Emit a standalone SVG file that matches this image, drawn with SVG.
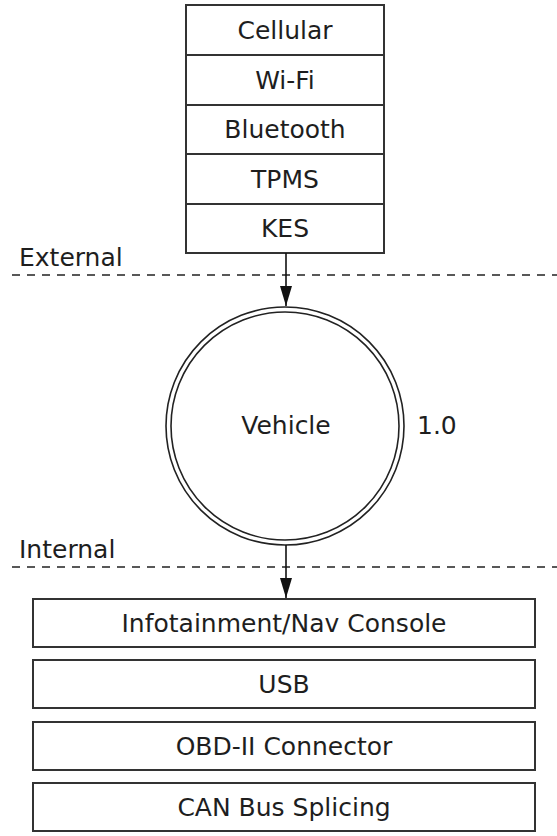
<svg xmlns="http://www.w3.org/2000/svg" width="557" height="836" viewBox="0 0 557 836">
<style>
.bx{fill:#fff;stroke:#333;stroke-width:2}
.t{font-family:"DejaVu Sans","Liberation Sans",sans-serif;font-size:25px;fill:#1e1e1e;text-anchor:middle}
.lbl{font-family:"DejaVu Sans","Liberation Sans",sans-serif;font-size:25px;fill:#1e1e1e}
.dash{stroke:#222;stroke-width:1.5;stroke-dasharray:8 7;fill:none}
.ring{fill:none;stroke:#222;stroke-width:1.6}
.conn{stroke:#111;stroke-width:1.6;fill:none}
</style>
<defs>
<marker id="ah" viewBox="0 0 20 12" refX="20" refY="6" markerWidth="20" markerHeight="12" markerUnits="userSpaceOnUse" orient="auto">
<path d="M0,0 L20,6 L0,12 Z" fill="#111"/>
</marker>
</defs>
<rect width="557" height="836" fill="#fff"/>
<g id="boundaries">
<line class="dash" x1="12" y1="275" x2="557" y2="275"/>
<text class="lbl" x="19" y="266">External</text>
<line class="dash" x1="12" y1="567" x2="557" y2="567"/>
<text class="lbl" x="19" y="558">Internal</text>
</g>
<g id="external-interfaces">
<g id="cellular"><rect class="bx" x="186" y="5" width="198" height="50"/><text class="t" x="285" y="39">Cellular</text></g>
<g id="wifi"><rect class="bx" x="186" y="55" width="198" height="50"/><text class="t" x="285" y="89">Wi-Fi</text></g>
<g id="bluetooth"><rect class="bx" x="186" y="105" width="198" height="49"/><text class="t" x="285" y="138">Bluetooth</text></g>
<g id="tpms"><rect class="bx" x="186" y="154" width="198" height="50"/><text class="t" x="285" y="188">TPMS</text></g>
<g id="kes"><rect class="bx" x="186" y="204" width="198" height="49"/><text class="t" x="285" y="237">KES</text></g>
</g>
<g id="vehicle">
<circle class="ring" cx="285" cy="426" r="119"/>
<circle class="ring" cx="285" cy="426" r="114"/>
<text class="t" x="286" y="434">Vehicle</text>
<text class="lbl" x="417" y="434">1.0</text>
</g>
<g id="internal-interfaces">
<g id="infotainment"><rect class="bx" x="33" y="599" width="502" height="48"/><text class="t" x="284" y="632">Infotainment/Nav Console</text></g>
<g id="usb"><rect class="bx" x="33" y="660" width="502" height="48"/><text class="t" x="284" y="693">USB</text></g>
<g id="obd"><rect class="bx" x="33" y="722" width="502" height="48"/><text class="t" x="284" y="755">OBD-II Connector</text></g>
<g id="can"><rect class="bx" x="33" y="783" width="502" height="48"/><text class="t" x="284" y="816">CAN Bus Splicing</text></g>
</g>
<g id="connectors">
<line class="conn" x1="286" y1="253" x2="286" y2="306" marker-end="url(#ah)"/>
<line class="conn" x1="286" y1="545" x2="286" y2="598" marker-end="url(#ah)"/>
</g>
</svg>
